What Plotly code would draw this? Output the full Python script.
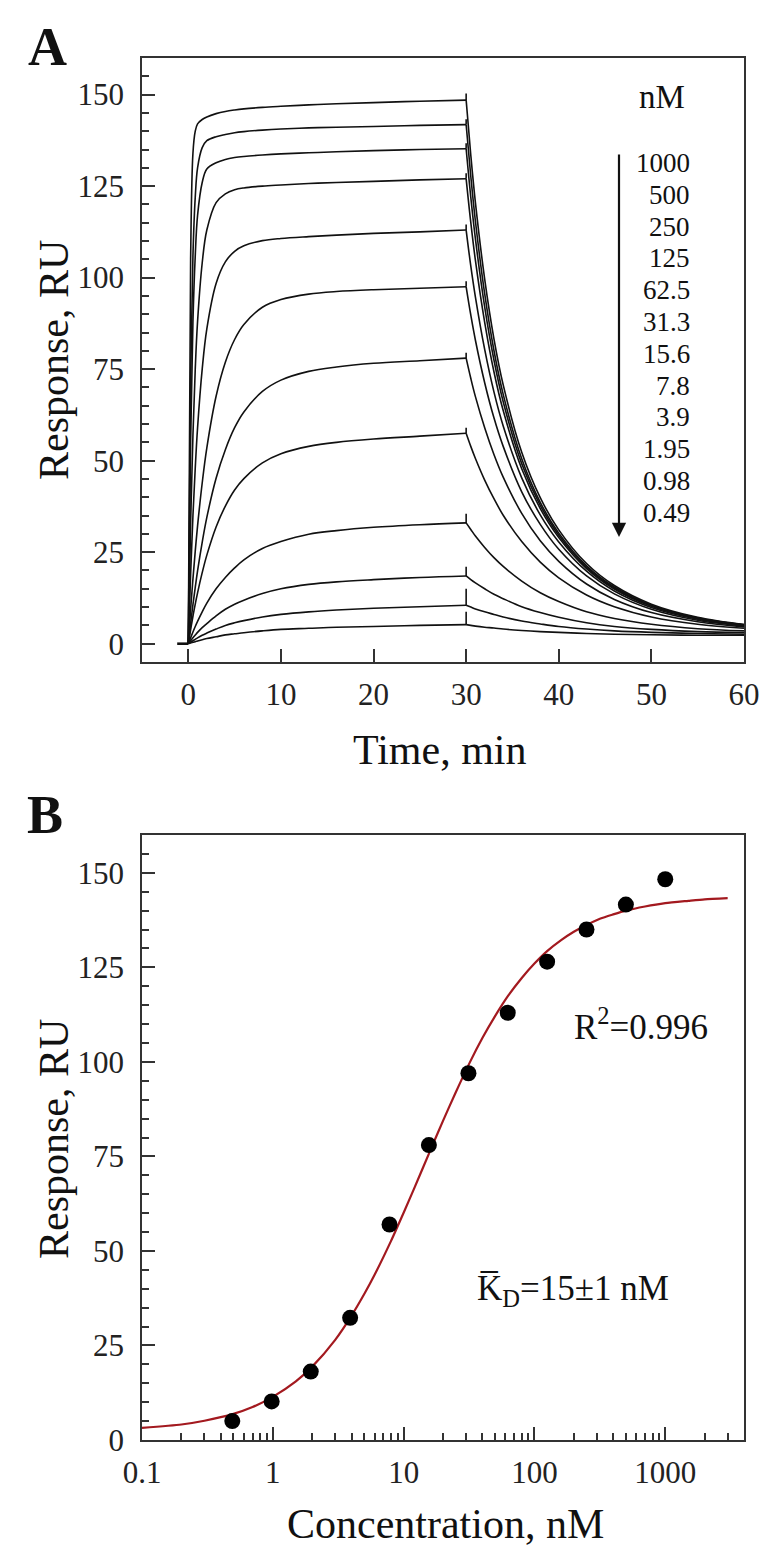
import plotly.graph_objects as go

# ---------------- Panel A: sensorgrams ----------------
conc_labels = ["1000", "500", "250", "125", "62.5", "31.3", "15.6", "7.8", "3.9", "1.95", "0.98", "0.49"]

# association phase time points (min)
t_assoc = [0, 0.25, 0.5, 0.75, 1, 1.5, 2, 3, 4, 5, 6, 8, 10, 13, 16, 20, 25, 30]
# dissociation phase time points (min)
t_diss = [30, 30.5, 31, 32, 33, 34, 36, 38, 40, 43, 46, 50, 55, 60]

assoc_1000 = [0, 105, 134, 140, 142, 143.2, 143.9, 144.8, 145.4, 145.8, 146.1, 146.5, 146.8, 147.2, 147.5, 147.8, 148.2, 148.5]
assoc_500 = [0, 72, 106, 122, 130, 135.5, 137.4, 138.5, 139.1, 139.6, 139.9, 140.3, 140.6, 140.9, 141.1, 141.3, 141.6, 141.8]
assoc_250 = [0, 55, 88, 106, 117, 126, 129.7, 131.4, 132.3, 132.8, 133.1, 133.5, 133.8, 134.1, 134.4, 134.7, 135, 135.2]
assoc_125 = [0, 33, 57, 75, 88, 104, 113, 120.5, 122.9, 124, 124.5, 125, 125.3, 125.7, 126, 126.3, 126.7, 127]
assoc_62_5 = [0, 19, 35, 48, 59, 75, 86, 98.4, 104.3, 107.2, 108.7, 110.1, 110.7, 111.2, 111.6, 112.1, 112.5, 113]
assoc_31_3 = [0, 9.4, 17.7, 25.3, 32.2, 43.9, 53.5, 67.6, 76.9, 83.1, 87.2, 91.9, 94, 95.5, 96.2, 96.7, 97.1, 97.5]
assoc_15_6 = [0, 5.5, 10.7, 15.4, 19.9, 27.7, 34.5, 45.2, 53, 59, 63.3, 68.9, 72, 74.4, 75.6, 76.6, 77.3, 78]
assoc_7_8 = [0, 3.8, 7.5, 10.8, 13.9, 19.4, 24.2, 31.9, 37.6, 42, 45.1, 49.4, 51.9, 53.9, 55, 55.9, 56.7, 57.5]
assoc_3_9 = [0, 1.6, 3.2, 4.7, 6.1, 8.7, 11.1, 15, 18.1, 20.7, 22.9, 26, 27.9, 29.9, 30.9, 31.8, 32.5, 33]
assoc_1_95 = [0, 0.8, 1.6, 2.35, 3.1, 4.4, 5.5, 7.6, 9.4, 10.8, 11.9, 13.7, 15, 16.2, 16.9, 17.5, 18.1, 18.5]
assoc_0_98 = [0, 0.4, 0.8, 1.2, 1.6, 2.3, 2.9, 4, 5, 5.7, 6.3, 7.3, 8, 8.7, 9.2, 9.7, 10.1, 10.5]
assoc_0_49 = [0, 0.2, 0.4, 0.55, 0.76, 1.1, 1.4, 1.9, 2.4, 2.7, 3, 3.5, 3.9, 4.2, 4.5, 4.7, 5, 5.2]

diss_1000 = [148.5, 133.5, 120.5, 99.6, 83.3, 70.7, 52.3, 39.9, 31.1, 21.9, 15.9, 10.8, 7.2, 5.2]
diss_500 = [141.8, 127.7, 115.4, 95.6, 80.1, 68.1, 50.5, 38.6, 30.2, 21.3, 15.5, 10.5, 7.0, 5.2]
diss_250 = [135.2, 122.0, 110.6, 92.0, 77.5, 66.1, 49.2, 37.8, 29.6, 20.9, 15.2, 10.4, 7.0, 5.1]
diss_125 = [127, 115.1, 104.7, 87.8, 74.3, 63.7, 47.8, 36.9, 29.0, 20.5, 14.9, 10.2, 6.9, 5.1]
diss_62_5 = [113, 103.2, 94.7, 80.4, 68.8, 59.5, 45.3, 35.2, 27.8, 19.8, 14.4, 9.9, 6.7, 5.0]
diss_31_3 = [97.5, 89.8, 82.9, 71.3, 61.7, 53.9, 41.5, 32.6, 25.8, 18.5, 13.6, 9.4, 6.4, 4.8]
diss_15_6 = [78, 72.5, 67.5, 59.0, 51.7, 45.5, 35.6, 28.1, 22.5, 16.3, 12.1, 8.5, 6.0, 4.6]
diss_7_8 = [57.5, 53.9, 50.6, 44.7, 39.6, 35.1, 27.9, 22.3, 18.0, 13.3, 10.1, 7.3, 5.3, 4.2]
diss_3_9 = [33, 31.2, 29.4, 26.3, 23.5, 21.1, 17.1, 13.9, 11.5, 8.7, 6.9, 5.3, 4.1, 3.5]
diss_1_95 = [18.5, 17.5, 16.6, 15.0, 13.5, 12.3, 10.1, 8.5, 7.2, 5.7, 4.7, 3.9, 3.3, 3.0]
diss_0_98 = [10.5, 10.0, 9.5, 8.7, 8.0, 7.3, 6.2, 5.4, 4.7, 4.0, 3.5, 3.1, 2.8, 2.6]
diss_0_49 = [5.2, 5.0, 4.8, 4.5, 4.3, 4.0, 3.6, 3.3, 3.1, 2.8, 2.6, 2.45, 2.3, 2.3]

# injection-switch artefact height at t = 30 min (RU above plateau)
spike_heights = [1.8, 1.5, 1.5, 1.5, 1.5, 1.5, 1.5, 1.5, 2.5, 2.5, 4.5, 3.5]

# pre-injection baseline
baseline_t = [-1.2, 0]
baseline_resp = [0, 0]

# ---------------- Panel B: steady-state fit ----------------
conc_points = [0.49, 0.98, 1.95, 3.9, 7.8, 15.6, 31.3, 62.5, 125, 250, 500, 1000]
resp_points = [5, 10.2, 18.1, 32.3, 57, 78, 97, 113, 126.5, 135, 141.6, 148.3]

conc_fit = [0.1, 0.2, 0.3, 0.5, 0.7, 1, 1.5, 2, 3, 4, 5, 6, 8, 10, 12, 16, 20, 25, 32, 40,
            50, 63, 80, 100, 125, 160, 200, 250, 320, 400, 500, 700, 1000, 1500, 2000, 3000]
resp_fit = [3.2, 4.1, 5.1, 6.9, 8.7, 11.4, 15.5, 19.4, 26.5, 32.9, 38.6, 43.7, 52.6, 60.1, 66.4, 76.6, 84.4, 91.9, 99.8, 106.3,
            112.1, 117.5, 122.2, 126.0, 129.3, 132.2, 134.4, 136.2, 137.9, 139.0, 140.0, 141.1, 142.0, 142.6, 143.0, 143.3]

x_ticks_b = [0.1, 1, 10, 100, 1000]
x_ticktext_b = ["0.1", "1", "10", "100", "1000"]

# ---------------- figure ----------------
PAGE_W, PAGE_H = 780, 1557
OFF = 8                      # default body margin of the html page
W, H = PAGE_W - 2 * OFF, PAGE_H - 2 * OFF
FONT = "Liberation Serif"
INK = "#111111"
AXC = "#333333"
RED = "#A3191F"


def px(x):
    return (x - OFF) / W


def py(y):
    return 1 - (y - OFF) / H


assoc_all = [assoc_1000, assoc_500, assoc_250, assoc_125, assoc_62_5, assoc_31_3,
             assoc_15_6, assoc_7_8, assoc_3_9, assoc_1_95, assoc_0_98, assoc_0_49]
diss_all = [diss_1000, diss_500, diss_250, diss_125, diss_62_5, diss_31_3,
            diss_15_6, diss_7_8, diss_3_9, diss_1_95, diss_0_98, diss_0_49]

fig = go.Figure()

line_style = dict(color=INK, width=1.6, shape="spline", smoothing=1.0)

fig.add_trace(go.Scatter(x=baseline_t, y=baseline_resp, mode="lines",
                         line=dict(color=INK, width=2.6), xaxis="x", yaxis="y", hoverinfo="skip"))

for lab, a, d in zip(conc_labels, assoc_all, diss_all):
    fig.add_trace(go.Scatter(x=t_assoc, y=a, mode="lines", line=line_style,
                             name=lab + " nM", xaxis="x", yaxis="y"))
    fig.add_trace(go.Scatter(x=t_diss, y=d, mode="lines", line=line_style,
                             name=lab + " nM", xaxis="x", yaxis="y"))

# vertical artefacts at the end of injection
sx, sy = [], []
for a, h in zip(assoc_all, spike_heights):
    sx += [t_assoc[-1], t_assoc[-1], None]
    sy += [a[-1], a[-1] + h, None]
fig.add_trace(go.Scatter(x=sx, y=sy, mode="lines", line=dict(color=INK, width=1.6),
                         xaxis="x", yaxis="y", hoverinfo="skip"))

# panel B
fig.add_trace(go.Scatter(x=conc_fit, y=resp_fit, mode="lines",
                         line=dict(color=RED, width=2.2, shape="spline", smoothing=0.6),
                         xaxis="x2", yaxis="y2"))
fig.add_trace(go.Scatter(x=conc_points, y=resp_points, mode="markers",
                         marker=dict(color="#000000", size=16, line=dict(width=0)),
                         xaxis="x2", yaxis="y2"))

tickfont = dict(family=FONT, size=31, color="#222222")
common_axis = dict(showline=True, linecolor=AXC, linewidth=1.8, mirror=True,
                   showgrid=False, zeroline=False, ticks="inside", ticklen=13,
                   tickwidth=1.8, tickcolor=AXC, tickfont=tickfont, automargin=False)

minor_y = dict(ticks="inside", ticklen=7, tickwidth=1.6, tickcolor=AXC, dtick=5, tick0=0, showgrid=False)

minor_logvals = [m * 10 ** e for e in (-1, 0, 1, 2, 3) for m in range(2, 10) if m * 10 ** e < 4000]

x_dom = [px(142), px(744)]

fig.update_layout(
    width=W, height=H,
    margin=dict(l=0, r=0, t=0, b=0),
    paper_bgcolor="white", plot_bgcolor="white",
    showlegend=False,
    xaxis=dict(domain=x_dom, anchor="y", range=[-5, 60], tick0=0, dtick=10,
               ticklabelstandoff=4, **common_axis),
    yaxis=dict(domain=[py(662), py(58)], anchor="x", range=[-5, 160], tick0=0, dtick=25,
               minor=minor_y, ticklabelstandoff=10, **common_axis),
    xaxis2=dict(domain=x_dom, anchor="y2", type="log", range=[-1, 3.602],
                tickmode="array", tickvals=x_ticks_b, ticktext=x_ticktext_b,
                minor=dict(ticks="inside", ticklen=7, tickwidth=1.6, tickcolor=AXC,
                           tickmode="array", tickvals=minor_logvals, showgrid=False),
                ticklabelstandoff=4, **common_axis),
    yaxis2=dict(domain=[py(1440), py(835)], anchor="x2", range=[0, 160], tick0=0, dtick=25,
                minor=minor_y, ticklabelstandoff=10, **common_axis),
)

ann = []


def text_ann(txt, x, y, size, **kw):
    d = dict(text=txt, x=px(x), y=py(y), xref="paper", yref="paper", showarrow=False,
             font=dict(family=FONT, size=size, color="#111111"), xanchor="center", yanchor="middle")
    d.update(kw)
    return d


ann.append(text_ann("<b>A</b>", 47, 47, 54))
ann.append(text_ann("<b>B</b>", 45, 815, 54))
ann.append(text_ann("Time, min", 440, 750, 42))
ann.append(text_ann("Concentration, nM", 445, 1524, 42))
ann.append(text_ann("Response, RU", 54, 360, 42, textangle=-90))
ann.append(text_ann("Response, RU", 54, 1139, 42, textangle=-90))
ann.append(text_ann("nM", 662, 97, 33))
for i, lab in enumerate(conc_labels):
    ann.append(text_ann(lab, 692, 163 + i * 31.8, 27, xanchor="right"))
ann.append(dict(x=px(619), y=py(537), xref="paper", yref="paper", ax=0, ay=-384,
                showarrow=True, arrowhead=2, arrowsize=1.3, arrowwidth=2.2,
                arrowcolor=INK, text=""))
ann.append(text_ann("R<sup>2</sup>=0.996", 641, 1025, 35))
ann.append(text_ann("K\u0305<sub>D</sub>=15\u00b11 nM", 573, 1290, 35))

fig.update_layout(annotations=ann)

fig.write_html("out.html")
